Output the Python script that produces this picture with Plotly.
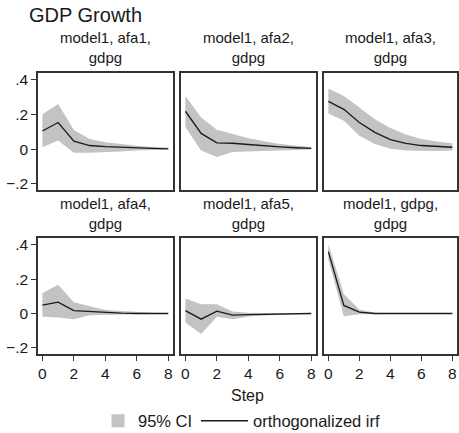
import plotly.graph_objects as go

W, H = 459, 433
FONT = "Liberation Sans, Arial, Helvetica, sans-serif"

steps = [0, 1, 2, 3, 4, 5, 6, 7, 8]

panel_titles = [
    "model1, afa1,<br>gdpg", "model1, afa2,<br>gdpg", "model1, afa3,<br>gdpg",
    "model1, afa4,<br>gdpg", "model1, afa5,<br>gdpg", "model1, gdpg,<br>gdpg",
]

irf_afa1 = [0.105, 0.154, 0.046, 0.021, 0.015, 0.010, 0.006, 0.004, 0.002]
lo_afa1 = [0.011, 0.050, -0.021, -0.021, -0.019, -0.013, -0.008, -0.004, -0.002]
hi_afa1 = [0.202, 0.261, 0.110, 0.059, 0.040, 0.029, 0.019, 0.013, 0.010]

irf_afa2 = [0.219, 0.091, 0.036, 0.034, 0.027, 0.019, 0.013, 0.008, 0.004]
lo_afa2 = [0.126, -0.008, -0.046, -0.017, -0.013, -0.010, -0.008, -0.004, -0.002]
hi_afa2 = [0.307, 0.183, 0.112, 0.088, 0.063, 0.046, 0.030, 0.021, 0.013]

irf_afa3 = [0.276, 0.230, 0.154, 0.097, 0.055, 0.034, 0.021, 0.015, 0.011]
lo_afa3 = [0.206, 0.164, 0.078, 0.030, 0.002, -0.008, -0.010, -0.010, -0.008]
hi_afa3 = [0.350, 0.307, 0.240, 0.173, 0.122, 0.084, 0.059, 0.044, 0.034]

irf_afa4 = [0.049, 0.066, 0.017, 0.012, 0.004, 0.002, 0.000, 0.000, 0.000]
lo_afa4 = [-0.019, -0.023, -0.033, -0.010, -0.008, -0.006, -0.004, -0.002, -0.001]
hi_afa4 = [0.120, 0.167, 0.066, 0.045, 0.021, 0.014, 0.008, 0.004, 0.002]

irf_afa5 = [0.017, -0.033, 0.014, -0.010, -0.006, -0.004, -0.002, -0.001, 0.000]
lo_afa5 = [-0.052, -0.120, -0.019, -0.033, -0.017, -0.012, -0.006, -0.003, -0.001]
hi_afa5 = [0.087, 0.054, 0.054, 0.012, 0.004, 0.002, 0.001, 0.000, 0.000]

irf_gdpg = [0.361, 0.047, 0.008, 0.000, 0.000, 0.000, 0.000, 0.000, 0.000]
lo_gdpg = [0.316, -0.016, -0.004, 0.000, 0.000, 0.000, 0.000, 0.000, 0.000]
hi_gdpg = [0.404, 0.113, 0.023, 0.004, 0.000, 0.000, 0.000, 0.000, 0.000]

y_tickvals = [-0.2, 0, 0.2, 0.4]
y_ticktext = ["\u2212.2", "0", ".2", ".4"]
x_tickvals = [0, 2, 4, 6, 8]

panels = [
    (irf_afa1, lo_afa1, hi_afa1), (irf_afa2, lo_afa2, hi_afa2), (irf_afa3, lo_afa3, hi_afa3),
    (irf_afa4, lo_afa4, hi_afa4), (irf_afa5, lo_afa5, hi_afa5), (irf_gdpg, lo_gdpg, hi_gdpg),
]

col_px = [(38, 173), (181, 316), (324, 457)]
row_px = [(73, 190), (238, 354)]

CI_COLOR = "#c3c3c3"
LINE_COLOR = "#1a1a1a"
FRAME = "#333333"

fig = go.Figure()
layout = dict(
    width=W, height=H, margin=dict(l=0, r=0, t=0, b=0, autoexpand=False),
    paper_bgcolor="white", plot_bgcolor="white",
    font=dict(family=FONT, size=15, color="#1a1a1a"),
    showlegend=True,
)
annotations = []

for i, (irf, lo, hi) in enumerate(panels):
    r, c = divmod(i, 3)
    n = i + 1
    xa = "x" if n == 1 else f"x{n}"
    ya = "y" if n == 1 else f"y{n}"
    fig.add_trace(go.Scatter(
        x=steps + steps[::-1], y=hi + lo[::-1], fill="toself",
        fillcolor=CI_COLOR, line=dict(width=0, color=CI_COLOR), mode="lines",
        hoverinfo="skip", showlegend=False, xaxis=xa, yaxis=ya))
    fig.add_trace(go.Scatter(
        x=steps, y=irf, mode="lines", line=dict(color=LINE_COLOR, width=1.3),
        showlegend=False, xaxis=xa, yaxis=ya))
    x0, x1 = col_px[c]
    t, b = row_px[r]
    layout["xaxis" if n == 1 else f"xaxis{n}"] = dict(
        domain=[x0 / W, x1 / W], range=[-0.28, 8.3], anchor=ya,
        showline=True, mirror=True, linecolor=FRAME, linewidth=1.6,
        showgrid=False, zeroline=False, tickvals=x_tickvals,
        ticks="outside" if r == 1 else "", ticklen=5, tickcolor=FRAME,
        showticklabels=(r == 1), tickfont=dict(size=15.5))
    layout["yaxis" if n == 1 else f"yaxis{n}"] = dict(
        domain=[1 - b / H, 1 - t / H], range=[-0.236, 0.44], anchor=xa,
        showline=True, mirror=True, linecolor=FRAME, linewidth=1.6,
        showgrid=False, zeroline=False, tickvals=y_tickvals, ticktext=y_ticktext,
        ticks="outside" if c == 0 else "", ticklen=5, tickcolor=FRAME,
        showticklabels=(c == 0), tickfont=dict(size=15.5))
    annotations.append(dict(
        text=panel_titles[i], x=(x0 + x1) / 2 / W, y=1 - (t - 25) / H,
        xref="paper", yref="paper", xanchor="center", yanchor="middle",
        showarrow=False, font=dict(size=15)))

# legend entries
fig.add_trace(go.Scatter(
    x=[None], y=[None], mode="markers", name="95% CI",
    marker=dict(symbol="square", size=13, color=CI_COLOR), legend="legend"))
fig.add_trace(go.Scatter(
    x=[None], y=[None], mode="lines", name="orthogonalized irf",
    line=dict(color=LINE_COLOR, width=1.3), legend="legend2"))

annotations.append(dict(text="GDP Growth", x=27 / W, y=1 - 15 / H, xref="paper", yref="paper",
                        xanchor="left", yanchor="middle", showarrow=False, font=dict(size=20)))
annotations.append(dict(text="Step", x=247.5 / W, y=1 - 395 / H, xref="paper", yref="paper",
                        xanchor="center", yanchor="middle", showarrow=False, font=dict(size=16)))

layout["annotations"] = annotations
layout["legend"] = dict(x=98 / W, y=1 - 421 / H, xanchor="left", yanchor="middle",
                        orientation="h", font=dict(size=16.5), bgcolor="rgba(0,0,0,0)")
layout["legend2"] = dict(x=196 / W, y=1 - 421 / H, xanchor="left", yanchor="middle",
                         orientation="h", font=dict(size=16.5), bgcolor="rgba(0,0,0,0)",
                         itemwidth=47)
fig.update_layout(**layout)
fig.write_html("out.html", config={"displayModeBar": False},
               post_script="document.body.style.margin='0px';document.body.style.overflow='hidden';")
